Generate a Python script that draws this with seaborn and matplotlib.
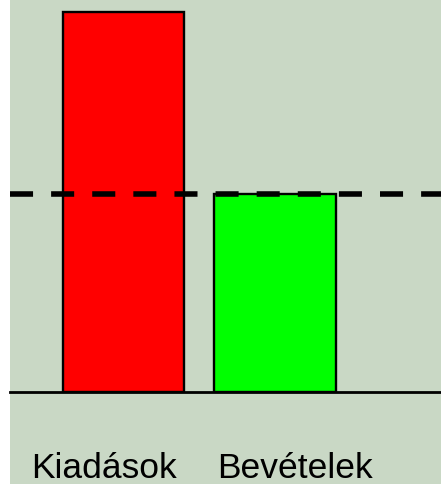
import matplotlib
matplotlib.use("Agg")
import matplotlib.pyplot as plt
import matplotlib.transforms as mtransforms
import seaborn as sns
import pandas as pd

categories = ["Kiadások", "Bevételek"]
values = [100, 52]
colors = ["#FF0000", "#00FF00"]
reference_level = values[1]

sns.set_theme(style="white")
plt.rcParams['font.family'] = ['Liberation Sans', 'DejaVu Sans']

W, H = 441, 485
fig = plt.figure(figsize=(W / 100, H / 100), dpi=100)
fig.patch.set_facecolor("white")

# greenish panel background (separate axes behind the chart)
bg = fig.add_axes([10 / W, 0, 1 - 10 / W, 1])
bg.set_zorder(0)
bg.set_facecolor("#C9D8C5")
bg.set_xticks([])
bg.set_yticks([])
for s in bg.spines.values():
    s.set_visible(False)

ax = fig.add_axes([10 / W, (H - 392.5) / H, (W - 10) / W, 392.5 / H])
ax.set_zorder(1)
ax.set_facecolor("none")

df = pd.DataFrame({"cat": categories, "val": values})
sns.barplot(data=df, x="cat", y="val", hue="cat", palette=colors, legend=False,
            saturation=1, width=0.8, edgecolor="black", linewidth=1.7, ax=ax)

ax.set_xlim(-0.749, 2.096)
ax.set_ylim(0, values[0] * 392.5 / 379.5)

line = ax.axhline(reference_level, color="black", linewidth=4.0, zorder=5,
                  linestyle=(0, (4.15, 3.25)))

for s in ["top", "left", "right"]:
    ax.spines[s].set_visible(False)
ax.spines["bottom"].set_color("black")
ax.spines["bottom"].set_linewidth(2.0)
ax.set_yticks([])
ax.set_xlabel("")
ax.set_ylabel("")
ax.tick_params(axis="x", length=0, pad=43, labelsize=25.5, labelcolor="black")

offsets = [-19, 20.5]
for lbl, dx in zip(ax.get_xticklabels(), offsets):
    lbl.set_transform(lbl.get_transform() + mtransforms.ScaledTranslation(dx / 100, 0, fig.dpi_scale_trans))

fig.savefig("out.png", dpi=100)
